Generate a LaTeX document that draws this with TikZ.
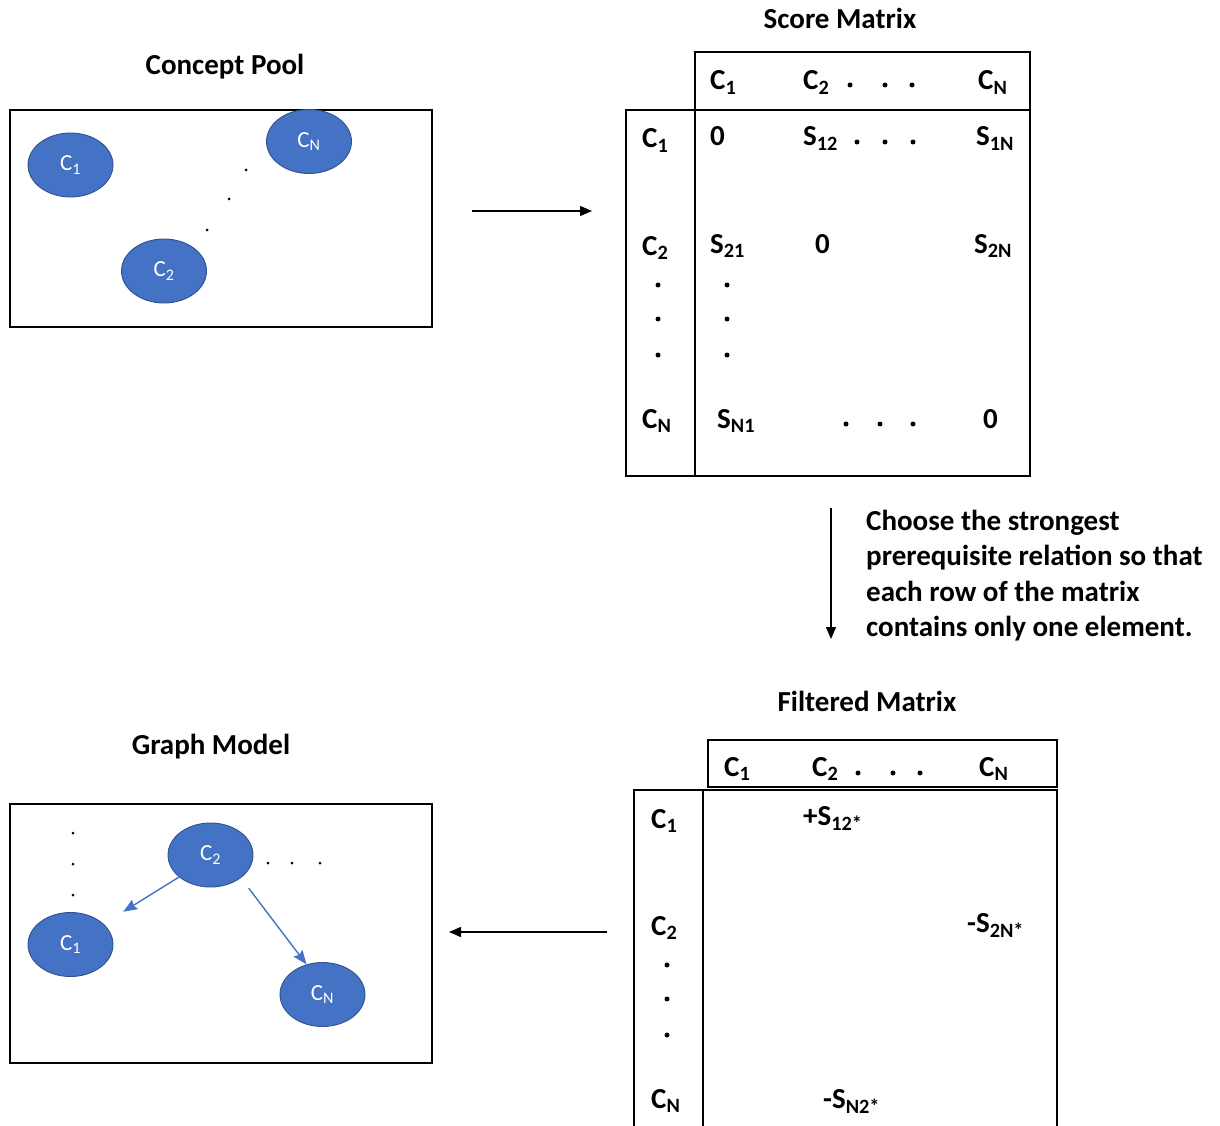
\documentclass[tikz,border=0pt]{standalone}
\usepackage{fontspec}
\setmainfont{Carlito}
\usetikzlibrary{arrows.meta,shapes.geometric}

\definecolor{conceptblue}{HTML}{4472C4}
\definecolor{conceptedge}{HTML}{2F528F}
\newcommand\sub[1]{\textsubscript{#1}}

\begin{document}
\begin{tikzpicture}[x=1pt,y=-1pt,
  concept/.style={ellipse, draw=conceptedge, fill=conceptblue, line width=0.9pt,
    minimum width=85pt, minimum height=64pt, inner sep=0pt, text=white,
    font=\fontsize{23}{27}\selectfont},
  title/.style={anchor=base, inner sep=0pt, font=\fontsize{29}{35}\selectfont\bfseries},
  cell/.style={anchor=base west, inner sep=0pt, font=\fontsize{29}{35}\selectfont\bfseries},
  mdot/.style={circle, fill=black, inner sep=0pt, minimum size=5pt},
  pdot/.style={circle, fill=black, inner sep=0pt, minimum size=3pt},
  frame/.style={draw=black, line width=1.3pt},
  flow/.style={draw=black, line width=1.3pt, -{Triangle[length=12pt,width=10pt]}},
  link/.style={draw=conceptblue, line width=1.4pt, -{Stealth[length=14pt,width=11pt,inset=2pt]}}
]
\useasboundingbox (0,0) rectangle (1220,1126);

% ---------------- Concept pool ----------------
\node[title] (tpool) at (225,75) {Concept Pool};
\draw[frame] (10,110) rectangle (432,327);
\node[concept] (p1) at (70.5,165) {C\sub{1}};
\node[concept] (pN) at (309,141.5) {C\sub{N}};
\node[concept] (p2) at (164,271) {C\sub{2}};
\node[pdot] (pd1) at (246,170) {};
\node[pdot] (pd2) at (229,199) {};
\node[pdot] (pd3) at (207,230) {};

% pool -> score matrix
\coordinate (f1s) at (472,211);
\coordinate (f1e) at (592,211);
\draw[flow] (f1s) -- (f1e);

% ---------------- Score matrix ----------------
\node[title] (tscore) at (840,29) {Score Matrix};
\draw[frame] (695,52) rectangle (1030,110);
\draw[frame] (626,110) rectangle (1030,476);
\draw[frame] (695,110) -- (695,476);

\node[cell] (sh1) at (710,90) {C\sub{1}};
\node[cell] (sh2) at (803,90) {C\sub{2}};
\node[cell] (shN) at (978,90) {C\sub{N}};
\node[mdot] (shd1) at (850,85) {};
\node[mdot] (shd2) at (885,85) {};
\node[mdot] (shd3) at (912,85) {};

\node[cell] (sr1) at (642,148) {C\sub{1}};
\node[cell] (s11) at (710,146) {0};
\node[cell] (s12) at (803,146) {S\sub{12}};
\node[cell] (s1N) at (976,146) {S\sub{1N}};
\node[mdot] (s1d1) at (857,142) {};
\node[mdot] (s1d2) at (885,142) {};
\node[mdot] (s1d3) at (913,142) {};

\node[cell] (sr2) at (642,255) {C\sub{2}};
\node[cell] (s21) at (710,253) {S\sub{21}};
\node[cell] (s22) at (815,253) {0};
\node[cell] (s2N) at (974,253) {S\sub{2N}};

\foreach \y [count=\i] in {285,319,355} {
  \node[mdot] (srd\i) at (658,\y) {};
  \node[mdot] (scd\i) at (727,\y) {};
}

\node[cell] (srN) at (642,428) {C\sub{N}};
\node[cell] (sN1) at (717,428) {S\sub{N1}};
\node[mdot] (sNd1) at (846,424) {};
\node[mdot] (sNd2) at (880,424) {};
\node[mdot] (sNd3) at (913,424) {};
\node[cell] (sNN) at (983,428) {0};

% score matrix -> filtered matrix
\coordinate (f2s) at (831,508);
\coordinate (f2e) at (831,639);
\draw[flow] (f2s) -- (f2e);
\node[anchor=base west, inner sep=0pt, font=\fontsize{29}{35}\selectfont\bfseries] (note) at (866,530)
  {\parbox[t]{360pt}{\baselineskip=35.5pt Choose the strongest\\
   prerequisite relation so that\\
   each row of the matrix\\
   contains only one element.}};

% ---------------- Filtered matrix ----------------
\node[title] (tfilt) at (867,711) {Filtered Matrix};
\draw[frame] (708,740) rectangle (1057,787);
\draw[frame] (634,1127) -- (634,790) -- (1057,790) -- (1057,1127);
\draw[frame] (703,790) -- (703,1127);

\node[cell] (fh1) at (724,776) {C\sub{1}};
\node[cell] (fh2) at (812,776) {C\sub{2}};
\node[cell] (fhN) at (979,776) {C\sub{N}};
\node[mdot] (fhd1) at (858,773) {};
\node[mdot] (fhd2) at (893,773) {};
\node[mdot] (fhd3) at (920,773) {};

\node[cell] (fr1) at (651,828) {C\sub{1}};
\node[cell] (f12) at (803,825) {+S\sub{12*}};
\node[cell] (fr2) at (651,935) {C\sub{2}};
\node[cell] (f2N) at (967,932) {-S\sub{2N*}};
\foreach \y [count=\i] in {965,999,1035} {
  \node[mdot] (frd\i) at (667,\y) {};
}
\node[cell] (frN) at (651,1108) {C\sub{N}};
\node[cell] (fN2) at (823,1108) {-S\sub{N2*}};

% filtered matrix -> graph model
\coordinate (f3s) at (607,932);
\coordinate (f3e) at (449,932);
\draw[flow] (f3s) -- (f3e);

% ---------------- Graph model ----------------
\node[title] (tgraph) at (211,754) {Graph Model};
\draw[frame] (10,804) rectangle (432,1063);
\node[concept] (g2) at (210.5,855) {C\sub{2}};
\node[concept] (g1) at (70.5,944.5) {C\sub{1}};
\node[concept] (gN) at (322.5,994.5) {C\sub{N}};
\foreach \y [count=\i] in {833,864,895} {
  \node[pdot] (gvd\i) at (73,\y) {};
}
\foreach \x [count=\i] in {268,292,320} {
  \node[pdot] (ghd\i) at (\x,863) {};
}
\draw[link, shorten >=23pt] (g2.215) -- (g1);
\draw[link, shorten <=13pt] (g2.-37) -- (gN.118);

\end{tikzpicture}
\end{document}
